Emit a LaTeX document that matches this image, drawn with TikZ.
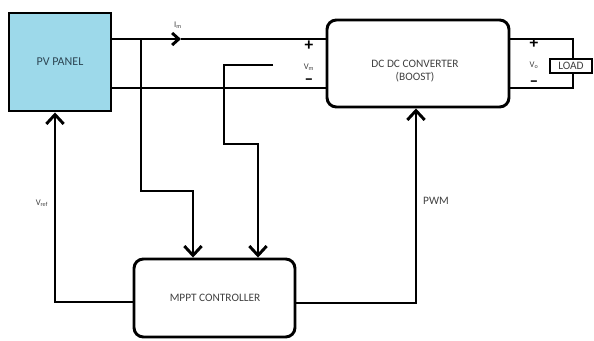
\documentclass[tikz,border=0pt]{standalone}
\usepackage{fontspec}
\setmainfont{Carlito}
\usetikzlibrary{arrows.meta}
\definecolor{pvblue}{HTML}{9DD9EA}
\definecolor{pvtxt}{HTML}{2D4654}
\definecolor{txt}{HTML}{404040}
\begin{document}
\begin{tikzpicture}[x=0.75pt,y=-0.75pt,
  wire/.style={line width=2.2pt, line join=miter},
  arr/.style={wire, -{Straight Barb[length=7pt,width=13pt,line width=2.2pt]}},
  midarr/.style={wire, -{Straight Barb[length=5pt,width=9pt,line width=2.2pt]}},
  blk/.style={draw, line width=2.2pt, rounded corners=7pt, inner sep=0pt},
  btxt/.style={text=txt, font=\fontsize{8.5}{10}\selectfont, align=center, inner sep=0pt},
  lbl/.style={text=txt, font=\fontsize{6.5}{7}\selectfont, inner sep=0pt},
  sgn/.style={text=black, font=\bfseries\fontsize{13}{13}\selectfont, inner sep=0pt},
  msgn/.style={sgn, text height=6.5pt, text depth=0pt}]
\useasboundingbox (0,0) rectangle (594,340);
% blocks
\node[draw, line width=2.2pt, fill=pvblue, minimum width=76.5pt, minimum height=73.5pt,
      text=pvtxt, font=\fontsize{9}{10}\selectfont, inner sep=0pt] (pv) at (60,62) {PV PANEL};
\node[blk, minimum width=136.5pt, minimum height=65.25pt] (conv) at (418,63.5) {};
\node[btxt] (convtxt) at (415,71) {DC DC CONVERTER\\(BOOST)};
\node[blk, minimum width=120.75pt, minimum height=58.5pt] (mppt) at (214.5,298) {};
\node[btxt] (mppttxt) at (215,298) {MPPT CONTROLLER};
\node[draw, line width=1.8pt, minimum width=31.5pt, minimum height=10.5pt, inner sep=0pt,
      btxt] (load) at (571,66) {LOAD};
% helper coordinates
\coordinate (ytop) at (0,39);
\coordinate (ybot) at (0,88);
\coordinate (imarr) at (181,39);
\coordinate (imj) at (141,39);
\coordinate (imk1) at (141,191);
\coordinate (imk2) at (193,191);
\coordinate (vmend) at (273,65);
\coordinate (vmk1) at (224,65);
\coordinate (vmk2) at (224,144);
\coordinate (vmk3) at (258,144);
\coordinate (yvr) at (0,302);
\coordinate (xvr) at (55,0);
\coordinate (ypw) at (0,303);
\coordinate (xpw) at (416,0);
\coordinate (xld) at (573,0);
% power lines
\draw[midarr] (pv.east |- ytop) -- (imarr);
\draw[wire] (imarr) -- (conv.west |- ytop);
\draw[wire] (pv.east |- ybot) -- (conv.west |- ybot);
\draw[wire] (conv.east |- ytop) -| (xld |- load.north);
\draw[wire] (conv.east |- ybot) -| (xld |- load.south);
% sensing lines
\draw[arr] (imj) -- (imk1) -- (imk2) -- (imk2 |- mppt.north);
\draw[arr] (vmend) -- (vmk1) -- (vmk2) -- (vmk3) -- (vmk3 |- mppt.north);
% control lines
\draw[arr] (mppt.west |- yvr) -| (xvr |- pv.south);
\draw[arr] (mppt.east |- ypw) -| (xpw |- conv.south);
% labels
\node[lbl] (lim) at (178,25) {I\textsubscript{m}};
\node[sgn] (p1) at (309,46) {+};
\node[lbl] (lvm) at (309,67) {V\textsubscript{m}};
\node[msgn] (m1) at (309,80) {–};
\node[sgn] (p2) at (534,44) {+};
\node[lbl] (lvo) at (534,65) {V\textsubscript{o}};
\node[msgn] (m2) at (534,82) {–};
\node[lbl] (lvr) at (42,203) {V\textsubscript{ref}};
\node[btxt] (lpwm) at (436,201) {PWM};
\end{tikzpicture}
\end{document}
